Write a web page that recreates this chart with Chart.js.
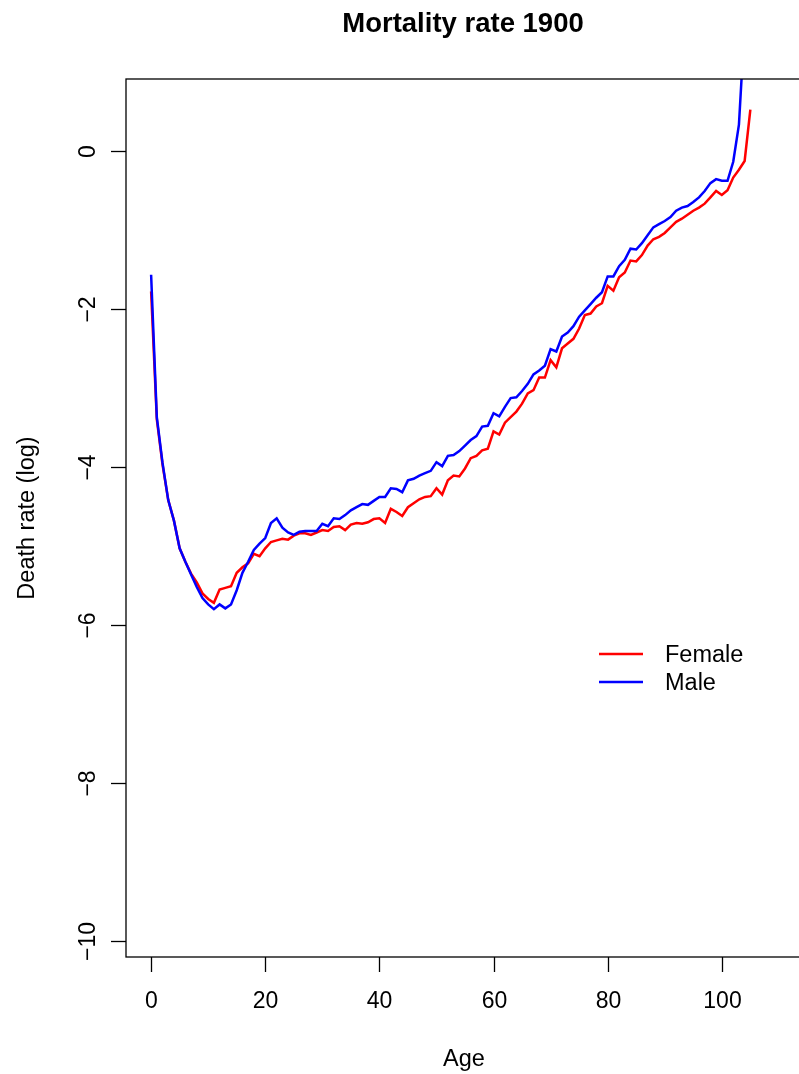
<!DOCTYPE html>
<html>
<head>
<meta charset="utf-8">
<title>Mortality rate 1900</title>
<script src="https://cdn.jsdelivr.net/npm/chart.js@4.4.1/dist/chart.umd.min.js"></script>
<style>
  html, body { margin: 0; padding: 0; background: #fff; overflow: hidden; }
  canvas { display: block; }
</style>
</head>
<body>
<canvas id="mortalityChart" width="820" height="1074"></canvas>
<script>
// Log death rates by single year of age, 1900
const ages = [
  0, 1, 2, 3, 4, 5, 6, 7, 8, 9,
  10, 11, 12, 13, 14, 15, 16, 17, 18, 19,
  20, 21, 22, 23, 24, 25, 26, 27, 28, 29,
  30, 31, 32, 33, 34, 35, 36, 37, 38, 39,
  40, 41, 42, 43, 44, 45, 46, 47, 48, 49,
  50, 51, 52, 53, 54, 55, 56, 57, 58, 59,
  60, 61, 62, 63, 64, 65, 66, 67, 68, 69,
  70, 71, 72, 73, 74, 75, 76, 77, 78, 79,
  80, 81, 82, 83, 84, 85, 86, 87, 88, 89,
  90, 91, 92, 93, 94, 95, 96, 97, 98, 99,
  100, 101, 102, 103, 104, 105
];

const femaleRates = [
  -1.78, -3.40, -3.97, -4.42, -4.68, -5.03, -5.20, -5.35, -5.46, -5.60,
  -5.67, -5.72, -5.55, -5.53, -5.51, -5.34, -5.27, -5.22, -5.10, -5.13,
  -5.03, -4.95, -4.93, -4.91, -4.92, -4.87, -4.84, -4.84, -4.86, -4.83,
  -4.80, -4.81, -4.76, -4.75, -4.80, -4.73, -4.71, -4.72, -4.70, -4.66,
  -4.65, -4.71, -4.53, -4.57, -4.62, -4.51, -4.46, -4.41, -4.38, -4.37,
  -4.27, -4.35, -4.17, -4.11, -4.12, -4.02, -3.89, -3.86, -3.79, -3.77,
  -3.55, -3.59, -3.44, -3.37, -3.30, -3.20, -3.07, -3.03, -2.87, -2.87,
  -2.65, -2.74, -2.50, -2.44, -2.38, -2.25, -2.08, -2.06, -1.97, -1.93,
  -1.71, -1.77, -1.60, -1.54, -1.39, -1.40, -1.32, -1.20, -1.12, -1.09,
  -1.04, -0.97, -0.90, -0.86, -0.81, -0.76, -0.72, -0.67, -0.59, -0.51,
  -0.56, -0.50, -0.34, -0.24, -0.13, 0.52
];

const maleRates = [
  -1.57, -3.37, -3.95, -4.42, -4.68, -5.03, -5.20, -5.36, -5.52, -5.66,
  -5.74, -5.80, -5.74, -5.79, -5.74, -5.56, -5.34, -5.20, -5.05, -4.97,
  -4.90, -4.71, -4.65, -4.77, -4.83, -4.86, -4.82, -4.81, -4.81, -4.81,
  -4.72, -4.75, -4.65, -4.66, -4.61, -4.55, -4.51, -4.47, -4.48, -4.43,
  -4.38, -4.38, -4.27, -4.28, -4.32, -4.17, -4.15, -4.11, -4.08, -4.05,
  -3.94, -3.99, -3.86, -3.85, -3.80, -3.73, -3.66, -3.61, -3.49, -3.48,
  -3.32, -3.36, -3.24, -3.13, -3.12, -3.04, -2.95, -2.83, -2.78, -2.72,
  -2.51, -2.54, -2.35, -2.30, -2.22, -2.10, -2.02, -1.94, -1.86, -1.79,
  -1.59, -1.59, -1.46, -1.38, -1.24, -1.25, -1.17, -1.07, -0.97, -0.93,
  -0.89, -0.84, -0.76, -0.72, -0.70, -0.65, -0.59, -0.51, -0.41, -0.36,
  -0.38, -0.38, -0.14, 0.33, 1.60, null
];

const xTicks = [0, 20, 40, 60, 80, 100];
const yTicks = [-10, -8, -6, -4, -2, 0];

const seriesNames = ['Female', 'Male'];
const seriesColors = ['#ff0000', '#0000ff'];

const FONT = '"Liberation Sans", Arial, Helvetica, sans-serif';

function toPoints(values) {
  return ages.map((a, i) => ({ x: a, y: values[i] }));
}

// axes, box, labels and legend drawn in base-graphics style
const baseAxes = {
  id: 'baseAxes',
  afterDraw(chart) {
    const ctx = chart.ctx;
    const area = chart.chartArea;
    const xs = chart.scales.x;
    const ys = chart.scales.y;
    const midX = (area.left + area.right) / 2;

    ctx.save();
    ctx.strokeStyle = '#000';
    ctx.fillStyle = '#000';
    ctx.lineWidth = 1.3;

    // plot box
    ctx.strokeRect(area.left, area.top, area.right - area.left, area.bottom - area.top);

    // x axis ticks + labels
    ctx.font = '23px ' + FONT;
    ctx.textAlign = 'center';
    ctx.textBaseline = 'middle';
    xTicks.forEach(t => {
      const px = Math.round(xs.getPixelForValue(t)) + 0.5;
      ctx.beginPath();
      ctx.moveTo(px, area.bottom);
      ctx.lineTo(px, area.bottom + 15);
      ctx.stroke();
      ctx.fillText(String(t), px, 1002);
    });

    // y axis ticks + rotated labels
    yTicks.forEach(t => {
      const py = Math.round(ys.getPixelForValue(t)) + 0.5;
      ctx.beginPath();
      ctx.moveTo(area.left, py);
      ctx.lineTo(area.left - 15, py);
      ctx.stroke();
      ctx.save();
      ctx.translate(89, py);
      ctx.rotate(-Math.PI / 2);
      ctx.fillText(String(t).replace('-', '\u2212'), 0, 0);
      ctx.restore();
    });

    // axis titles
    ctx.font = '23.5px ' + FONT;
    ctx.fillText('Age', midX - 1, 1060);
    ctx.save();
    ctx.translate(28, (area.top + area.bottom) / 2);
    ctx.rotate(-Math.PI / 2);
    ctx.fillText('Death rate (log)', 0, 0);
    ctx.restore();

    // main title
    ctx.font = 'bold 27.5px ' + FONT;
    ctx.fillText('Mortality rate 1900', midX - 2, 24);

    // legend, no frame
    ctx.font = '23.5px ' + FONT;
    ctx.textAlign = 'left';
    ctx.lineWidth = 2.5;
    const legendRows = [654, 682];
    seriesNames.forEach((name, i) => {
      ctx.strokeStyle = seriesColors[i];
      ctx.beginPath();
      ctx.moveTo(599, legendRows[i]);
      ctx.lineTo(643, legendRows[i]);
      ctx.stroke();
      ctx.fillText(name, 665, legendRows[i] + 2);
    });
    ctx.restore();
  }
};

const ctx = document.getElementById('mortalityChart').getContext('2d');
new Chart(ctx, {
  type: 'line',
  data: {
    datasets: [
      {
        label: seriesNames[0],
        data: toPoints(femaleRates),
        borderColor: seriesColors[0],
        borderWidth: 2.5,
        pointRadius: 0,
        tension: 0,
        order: 1
      },
      {
        label: seriesNames[1],
        data: toPoints(maleRates),
        borderColor: seriesColors[1],
        borderWidth: 2.5,
        pointRadius: 0,
        tension: 0,
        order: 0
      }
    ]
  },
  options: {
    responsive: false,
    animation: false,
    events: [],
    layout: {
      padding: { left: 126, top: 79, right: 16, bottom: 117 }
    },
    scales: {
      x: { type: 'linear', min: -4.4, max: 114.4, display: false },
      y: { type: 'linear', min: -10.2, max: 0.907, display: false }
    },
    plugins: {
      legend: { display: false },
      title: { display: false },
      tooltip: { enabled: false }
    }
  },
  plugins: [baseAxes]
});
</script>
</body>
</html>
